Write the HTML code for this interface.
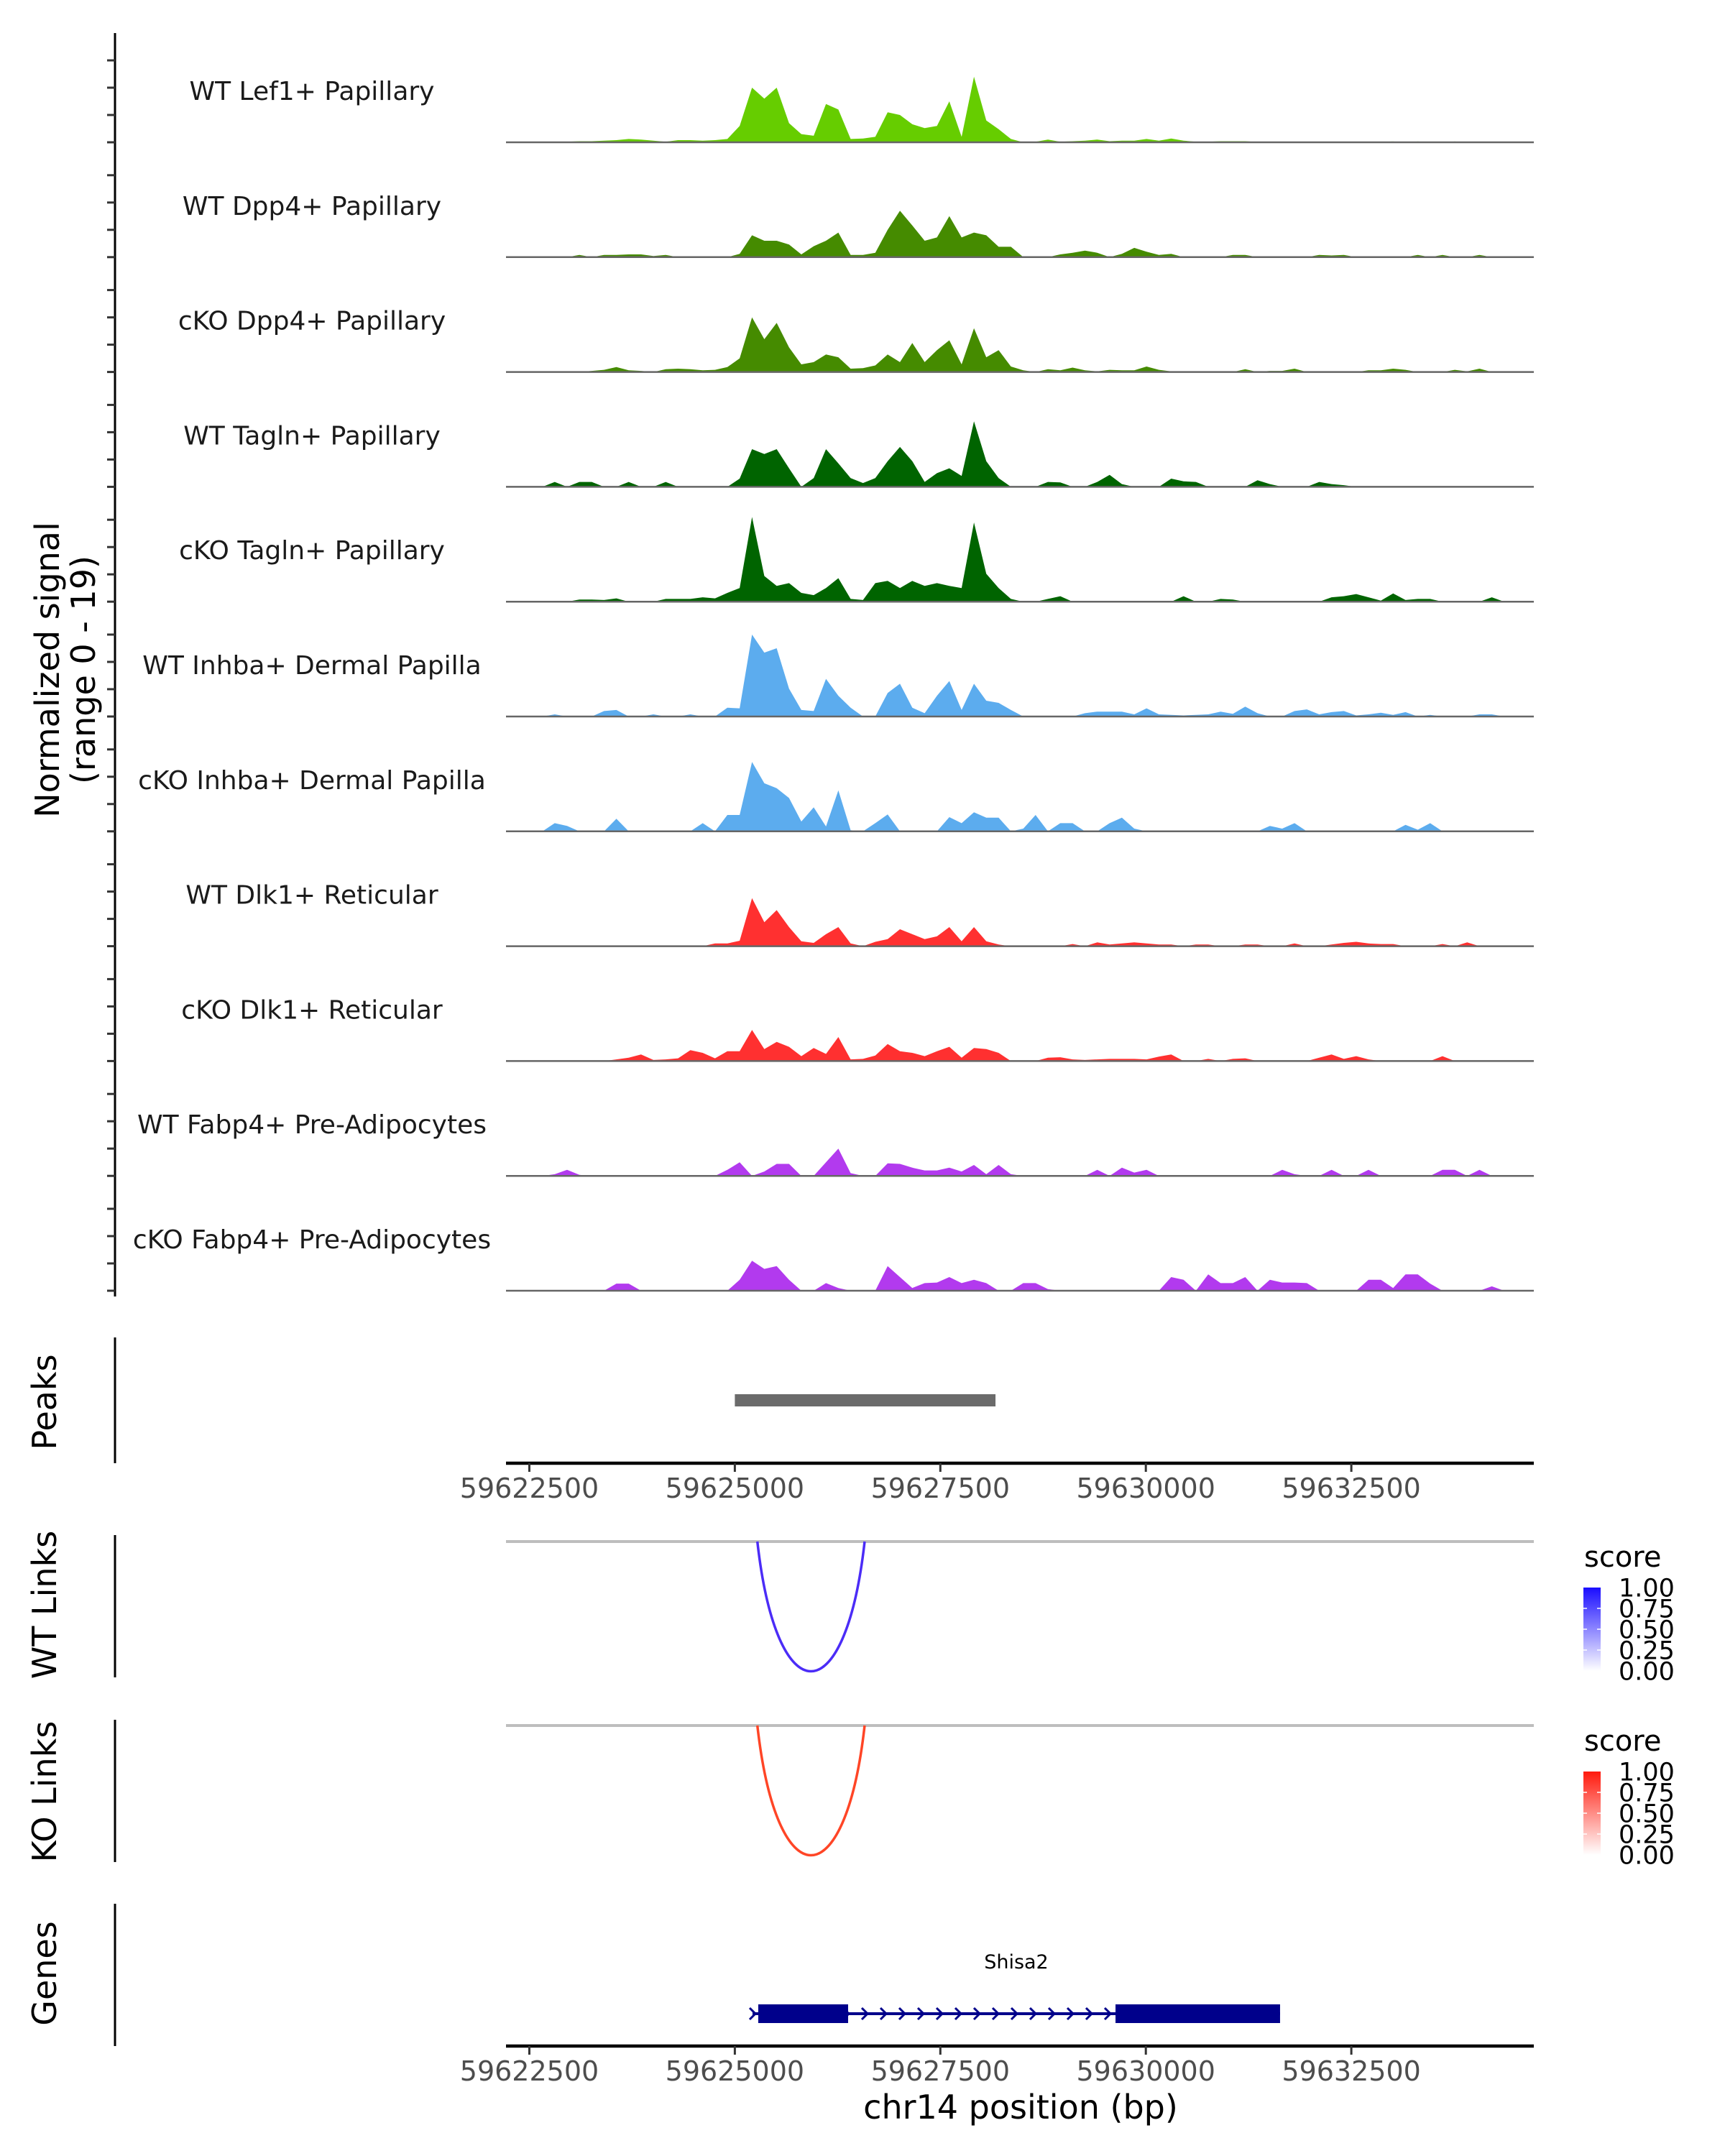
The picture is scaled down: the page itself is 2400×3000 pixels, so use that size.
<!DOCTYPE html>
<html><head><meta charset="utf-8"><title>Coverage plot chr14</title>
<style>
html,body{margin:0;padding:0;background:#fff;}
svg{display:block;font-family:"DejaVu Sans","Liberation Sans",sans-serif;}
</style></head>
<body>
<svg id="chart" width="2400" height="3000" viewBox="0 0 2400 3000" xmlns="http://www.w3.org/2000/svg">
<defs>
<linearGradient id="gBlue" x1="0" y1="1" x2="0" y2="0"><stop offset="0" stop-color="#ffffff"/><stop offset="1" stop-color="#1a0dff"/></linearGradient>
<linearGradient id="gRed" x1="0" y1="1" x2="0" y2="0"><stop offset="0" stop-color="#ffffff"/><stop offset="1" stop-color="#ff1a0d"/></linearGradient>
</defs>
<g id="tracks"></g>
<line x1="160" y1="46" x2="160" y2="1804" stroke="#000" stroke-width="3"/>
<g id="yticks"></g>
<text transform="translate(82,932) rotate(-90)" text-anchor="middle" font-size="46" fill="#000">Normalized signal</text>
<text transform="translate(132,932) rotate(-90)" text-anchor="middle" font-size="46" fill="#000">(range 0 - 19)</text>

<line x1="160" y1="1861" x2="160" y2="2036" stroke="#000" stroke-width="3"/>
<text transform="translate(78,1951) rotate(-90)" text-anchor="middle" font-size="46">Peaks</text>
<line x1="160" y1="2136" x2="160" y2="2334" stroke="#000" stroke-width="3"/>
<text transform="translate(78,2233) rotate(-90)" text-anchor="middle" font-size="46">WT Links</text>
<line x1="160" y1="2393" x2="160" y2="2591" stroke="#000" stroke-width="3"/>
<text transform="translate(78,2493) rotate(-90)" text-anchor="middle" font-size="46">KO Links</text>
<line x1="160" y1="2649" x2="160" y2="2847" stroke="#000" stroke-width="3"/>
<text transform="translate(78,2746) rotate(-90)" text-anchor="middle" font-size="46">Genes</text>

<g id="peaks"></g>
<g id="links"></g>
<g id="genes"></g>
<g id="xaxes"></g>
<text x="1420" y="2948" text-anchor="middle" font-size="46" fill="#000">chr14 position (bp)</text>

<g>
<text x="2204" y="2180" font-size="40">score</text>
<rect x="2203" y="2209" width="24" height="116" fill="url(#gBlue)"/>
</g>
<g>
<text x="2204" y="2436" font-size="40">score</text>
<rect x="2203" y="2465" width="24" height="116" fill="url(#gRed)"/>
</g>
<g id="legendlabels"></g>
</svg>
<script>
// ---- data ----
const trackLabels = ["WT Lef1+ Papillary","WT Dpp4+ Papillary","cKO Dpp4+ Papillary","WT Tagln+ Papillary","cKO Tagln+ Papillary","WT Inhba+ Dermal Papilla","cKO Inhba+ Dermal Papilla","WT Dlk1+ Reticular","cKO Dlk1+ Reticular","WT Fabp4+ Pre-Adipocytes","cKO Fabp4+ Pre-Adipocytes"];
const trackColors = ["#66cd00","#458b00","#458b00","#006400","#006400","#5cacee","#5cacee","#ff3030","#ff3030","#b23aee","#b23aee"];
const binStart = 59622284;
const binWidth = 150;
const sigLef1WT = [0,0,0,0,0.1,0.2,0.2,0.3,0.4,0.6, 0.5,0.3,0.1,0.4,0.4,0.3,0.4,0.6,3,10, 8,10,3.5,1.5,1.2,7,6,0.6,0.7,1.0, 5.5,5,3.3,2.6,3,7.5,1,12,4,2.4, 0.6,0,0.1,0.5,0.1,0.2,0.3,0.5,0.2,0.3, 0.3,0.6,0.3,0.7,0.3,0.1,0.1,0.2,0.2,0.2, 0.05,0.05,0.05,0.05,0.1,0.1,0.1,0.1,0.1,0.1, 0.1,0.15,0,0.15,0,0,0.15,0,0.1,0.1, 0,0,0,0];
const sigDpp4WT = [0,0,0,0,0,0.4,0,0.4,0.4,0.5, 0.5,0.2,0.4,0,0,0,0,0,0.6,4, 3,3,2.3,0.5,2,3,4.5,0.4,0.4,0.8, 5,8.5,5.8,3,3.6,7.5,3.6,4.5,4,1.9, 1.9,0,0,0,0.5,0.8,1.2,0.8,0,0.6, 1.7,1.0,0.4,0.6,0,0,0,0,0.4,0.4, 0,0,0,0,0,0.4,0.3,0.4,0,0, 0,0,0,0.4,0,0.4,0,0,0.4,0, 0,0,0,0];
const sigDpp4KO = [0,0,0,0,0,0,0.2,0.4,0.9,0.3, 0.2,0,0.5,0.6,0.5,0.3,0.4,0.9,2.5,10, 6,9,4.5,1.4,1.8,3.2,2.7,0.6,0.7,1.2, 3.2,1.8,5.3,1.8,4,5.8,1.4,8,2.7,4, 1,0.3,0,0.5,0.3,0.8,0.3,0.1,0.4,0.3, 0.3,1.0,0.4,0.1,0,0,0.1,0,0,0.5, 0,0.2,0.2,0.6,0,0,0,0,0,0.3, 0.3,0.6,0.4,0,0,0,0.4,0.1,0.6,0, 0,0,0,0];
const sigTaglnWT = [0,0,0,0.9,0,0.9,0.9,0,0,0.9, 0,0,0.9,0,0,0,0,0,1.5,6.9, 6,6.9,3.4,0,1.6,6.9,4.3,1.6,0.7,1.6, 4.7,7.3,4.7,0.9,2.5,3.4,2,12,4.7,1.6, 0,0,0,0.9,0.8,0,0,0.9,2.2,0.5, 0,0,0,1.5,1.0,0.9,0,0,0,0, 1.2,0.5,0,0,0,0.9,0.5,0.3,0,0, 0,0,0,0,0,0,0,0,0,0, 0,0,0,0];
const sigTaglnKO = [0,0,0,0,0,0.4,0.4,0.3,0.6,0, 0,0,0.5,0.5,0.5,0.8,0.6,1.6,2.5,15.5, 4.7,2.9,3.4,1.6,1.2,2.5,4.3,0.5,0.3,3.4, 3.8,2.5,3.8,2.9,3.4,2.9,2.5,14.5,5.1,2.5, 0.5,0,0,0.5,1.0,0,0,0,0,0, 0,0,0,0,1.0,0,0,0.5,0.4,0, 0,0,0,0,0,0,0.8,1.0,1.4,0.8, 0.2,1.5,0.3,0.5,0.5,0,0,0,0,0.8, 0,0,0,0];
const sigInhbaWT = [0,0,0,0.4,0,0,0,1.0,1.2,0, 0,0.4,0,0,0.4,0,0,1.6,1.5,15, 11.7,12.5,5.1,1.2,1.0,6.9,3.8,1.6,0,0, 4.3,6,1.6,0.6,3.8,6.5,1.2,6,2.9,2.5, 1.2,0,0,0,0,0,0.6,0.9,0.9,0.9, 0.4,1.5,0.4,0.3,0.2,0.3,0.4,0.9,0.5,1.8, 0.6,0,0,1.0,1.3,0.4,0.8,1.0,0.2,0.4, 0.7,0.3,0.8,0,0.3,0,0,0,0.4,0.4, 0,0,0,0];
const sigInhbaKO = [0,0,0,1.5,1.0,0,0,0,2.3,0, 0,0,0,0,0,1.5,0,3,3,12.7, 8.8,7.9,6.1,1.8,4.4,0.9,7.5,0.2,0,1.5, 3.1,0,0,0,0,2.6,1.5,3.5,2.5,2.5, 0,0.5,3,0,1.5,1.5,0,0,1.5,2.5, 0.5,0,0,0,0,0,0,0,0,0, 0,1.0,0.5,1.5,0,0,0,0,0,0, 0,0,1.2,0.3,1.5,0,0,0,0,0, 0,0,0,0];
const sigDlk1WT = [0,0,0,0,0,0,0,0,0,0, 0,0,0,0,0,0,0.5,0.5,1.0,8.8, 4.4,6.6,3.5,0.9,0.6,2.2,3.5,0.5,0,0.8, 1.3,3.1,2.2,1.3,1.8,3.5,0.9,3.5,0.9,0.3, 0,0,0,0,0,0.4,0,0.7,0.3,0.5, 0.7,0.5,0.3,0.3,0,0.3,0.3,0,0,0.3, 0.3,0,0,0.5,0,0,0.3,0.6,0.8,0.5, 0.4,0.4,0,0,0,0.4,0,0.7,0,0, 0,0,0,0];
const sigDlk1KO = [0,0,0,0,0,0,0,0,0.3,0.6, 1.2,0.2,0.3,0.5,2.0,1.5,0.5,1.8,1.8,5.7, 2.2,3.5,2.6,0.9,2.4,1.3,4.4,0.3,0.4,1.0, 3.1,1.8,1.5,0.9,1.8,2.6,0.6,2.4,2.2,1.5, 0,0,0,0.6,0.7,0.3,0.2,0.3,0.4,0.4, 0.4,0.3,0.8,1.2,0,0,0.4,0,0.4,0.5, 0,0,0,0,0,0.6,1.2,0.4,0.9,0.3, 0,0,0,0,0,0.9,0,0,0,0, 0,0,0,0];
const sigFabp4WT = [0,0,0,0.3,1.1,0.2,0,0,0,0, 0,0,0,0,0,0,0,1.1,2.5,0, 0.8,2.2,2.2,0,0,2.5,5,0.5,0,0, 2.3,2.2,1.5,1.0,1.0,1.5,0.8,2.0,0.3,2.0, 0.3,0,0,0,0,0,0,1.1,0,1.5, 0.6,1.1,0,0,0,0,0,0,0,0, 0,0,1.1,0.3,0,0,1.1,0,0,1.1, 0,0,0,0,0,1.1,1.1,0,1.1,0, 0,0,0,0];
const sigFabp4KO = [0,0,0,0,0,0,0,0,1.3,1.3, 0,0,0,0,0,0,0,0,2.0,5.5, 4,4.5,2.0,0,0,1.4,0.5,0,0,0, 4.5,2.5,0.5,1.4,1.5,2.5,1.4,2.0,1.4,0, 0,1.4,1.4,0.3,0,0,0,0,0,0, 0,0,0,2.5,2.0,0,3,1.4,1.4,2.5, 0,2.0,1.5,1.5,1.4,0,0,0,0,2.0, 2.0,0.5,3.0,3.0,1.3,0,0,0,0,0.8, 0,0,0,0];
const signals = [sigLef1WT,sigDpp4WT,sigDpp4KO,sigTaglnWT,sigTaglnKO,sigInhbaWT,sigInhbaKO,sigDlk1WT,sigDlk1KO,sigFabp4WT,sigFabp4KO];
const signalMax = 19;
const yTickValues = [0,5,10,15];
const xTickValues = [59622500,59625000,59627500,59630000,59632500];
const peakRegions = [[59625000,59628171]];
const wtLinks = [[59625274,59626579,1.0]];
const koLinks = [[59625274,59626579,1.0]];
const geneName = "Shisa2";
const geneSpan = [59625215,59631633];
const geneExons = [[59625285,59626378],[59629631,59631633]];
const legendTicks = ["1.00","0.75","0.50","0.25","0.00"];

// ---- scales ----
const NS = "http://www.w3.org/2000/svg";
const X0 = 704, X1 = 2134, BP0 = 59622216, BP1 = 59634720;
function xScale(bp){ return X0 + (bp-BP0)/(BP1-BP0)*(X1-X0); }
const trackBase0 = 198, trackStep = 159.8, unitPx = 7.6;
function yScale(t, v){ return trackBase0 + t*trackStep - Math.min(v,signalMax)*unitPx; }
function mk(tag, attrs, parent){ const e=document.createElementNS(NS,tag); for(const k in attrs) e.setAttribute(k,attrs[k]); parent.appendChild(e); return e; }

// ---- signal tracks ----
const gT = document.getElementById('tracks');
const gY = document.getElementById('yticks');
signals.forEach((vals,t)=>{
  const base = yScale(t,0);
  let d = "M"+xScale(binStart).toFixed(1)+","+base;
  vals.forEach((v,i)=>{
    const xc = xScale(binStart+(i+0.5)*binWidth);
    d += " L"+xc.toFixed(1)+","+yScale(t,v).toFixed(1);
  });
  d += " L"+xScale(binStart+vals.length*binWidth).toFixed(1)+","+base+" Z";
  const p = mk('path',{d:d,fill:trackColors[t],stroke:"none"},gT);
  
  
  const bl = mk('line',{x1:X0,x2:X1,y1:base,y2:base,stroke:"#666",'stroke-width':2.5},gT);
  
  
  const lb = mk('text',{x:434,y:base-59,'text-anchor':'middle','font-size':36,fill:'#1a1a1a'},gT);
  lb.textContent = trackLabels[t];
  
  
  yTickValues.forEach(v=>{
    const y = yScale(t,v);
    const tk = mk('line',{x1:149,x2:160,y1:y,y2:y,stroke:"#333",'stroke-width':3},gY);
    
    
  });
});

// ---- peaks ----
const gP = document.getElementById('peaks');
peakRegions.forEach(r=>{
  const rc = mk('rect',{x:xScale(r[0]),y:1940,width:xScale(r[1])-xScale(r[0]),height:17,fill:"#6b6b6b"},gP);
  
  
});

// ---- links ----
const gL = document.getElementById('links');
function drawLinks(list, top, color, name){
  const gl = mk('line',{x1:X0,x2:X1,y1:top,y2:top,stroke:"#bebebe",'stroke-width':4},gL);
  
  
  list.forEach(l=>{
    const xa=xScale(l[0]), xb=xScale(l[1]), depth=181*l[2];
    const d="M"+xa+","+top+" C"+(xa+(xb-xa)*0.18)+","+(top+depth*1.33)+" "+(xb-(xb-xa)*0.18)+","+(top+depth*1.33)+" "+xb+","+top;
    const p = mk('path',{d:d,fill:"none",stroke:color,'stroke-width':3.5},gL);
    
    
  });
}
drawLinks(wtLinks, 2145, "#4b2cf7", "wt-link");
drawLinks(koLinks, 2401, "#ff4526", "ko-link");

// ---- genes ----
const gG = document.getElementById('genes');
const gy = 2802;
const gx0 = xScale(geneSpan[0]), gx1 = xScale(geneSpan[1]);
const gl = mk('line',{x1:gx0,x2:gx1,y1:gy,y2:gy,stroke:"#00008b",'stroke-width':4},gG);


for(let x=gx0; x<gx1; x+=26){
  const c = mk('path',{d:"M"+(x-4)+","+(gy-8)+" L"+(x+4)+","+gy+" L"+(x-4)+","+(gy+8),fill:"none",stroke:"#00008b",'stroke-width':3},gG);
  
  
}
geneExons.forEach(e=>{
  const r = mk('rect',{x:xScale(e[0]),y:gy-13,width:xScale(e[1])-xScale(e[0]),height:26,fill:"#00008b"},gG);
  
  
});
const gn = mk('text',{x:(gx0+gx1)/2,y:2739,'text-anchor':'middle','font-size':27,fill:'#000'},gG);
gn.textContent = geneName;



// ---- x axes ----
const gX = document.getElementById('xaxes');
[2036, 2847].forEach(ay=>{
  const al = mk('line',{x1:X0,x2:X1,y1:ay,y2:ay,stroke:"#000",'stroke-width':4.5},gX);
  
  
  xTickValues.forEach(v=>{
    const x=xScale(v);
    const tk = mk('line',{x1:x,x2:x,y1:ay,y2:ay+12,stroke:"#333",'stroke-width':3},gX);
    
    
    const tl = mk('text',{x:x,y:ay+48,'text-anchor':'middle','font-size':38,fill:'#4d4d4d'},gX);
    tl.textContent = String(v);
    
    
  });
});

// ---- legend labels ----
const gLL = document.getElementById('legendlabels');
[2209, 2465].forEach(top=>{
  legendTicks.forEach((s,i)=>{
    const y = top + i*29;
    const tl = mk('text',{x:2252,y:y+12.5,'font-size':35,fill:'#000'},gLL);
    tl.textContent = s;
    
    
    if(i>0 && i<4){
      const m1 = mk('line',{x1:2203,x2:2208,y1:y,y2:y,stroke:"#fff",'stroke-width':1.5},gLL);
      
      
      const m2 = mk('line',{x1:2222,x2:2227,y1:y,y2:y,stroke:"#fff",'stroke-width':1.5},gLL);
      
      
    }
  });
});
</script>
</body></html>
